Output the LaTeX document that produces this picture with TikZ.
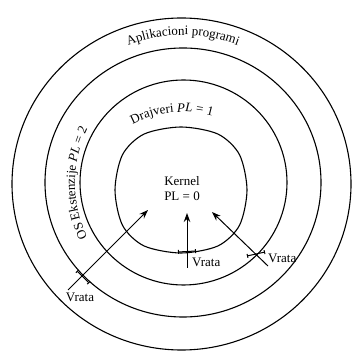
\documentclass[tikz,border=0pt]{standalone}
\usepackage{fontspec}
\setmainfont{Liberation Serif}
\usetikzlibrary{arrows.meta,decorations.text}
\newcommand\ringfont{\fontsize{13}{15}\selectfont}
\begin{document}
\begin{tikzpicture}[x=1pt,y=1pt,
  ring/.style={line width=1.1pt},
  gatearrow/.style={line width=1pt,-{Stealth[length=9pt,width=6.5pt]}},
  gatebar/.style={line width=1pt,{Bar[width=4pt]}-{Bar[width=4pt]}},
  lbl/.style={font=\ringfont,inner sep=0pt}]
\useasboundingbox (0,0) rectangle (353,353);
% rings
\draw[ring] (181.5,169) ellipse [x radius=169.5, y radius=166];
\draw[ring] (183,170.5) ellipse [x radius=138, y radius=134.5];
\draw[ring] (183.5,170.5) ellipse [x radius=103.5, y radius=102.5];
\draw[ring] plot[smooth cycle] coordinates {(247,163) (239.5,198.3) (218,218.9) (181,226) (144,218.9) (122.5,198.3) (115,163) (122.5,127.7) (144,107.1) (181,100) (218,107.1) (239.5,127.7)};
% ring labels
\path[decorate,decoration={text along path,text align=center,text={|\ringfont|Aplikacioni programi}}]
  (183,170) ++(125:148) arc[start angle=125,end angle=55,radius=148];
\path[decorate,decoration={text along path,text align=center,text={|\ringfont|Drajveri |\ringfont\itshape|PL|\ringfont| = 1}}]
  (183,133) ++(130:108) arc[start angle=130,end angle=62,radius=108];
\path[decorate,decoration={text along path,text align=center,text={|\ringfont|OS Ekstenzije |\ringfont\itshape|PL|\ringfont| = 2}}]
  (200,170) ++(220:125) arc[start angle=220,end angle=140,radius=125];
% kernel
\node[lbl,align=center] (kern) at (182,164) {Kernel\\PL = 0};
% gates and arrows
\coordinate (a1s) at (68,63); \coordinate (a1t) at (148,143);
\coordinate (g1a) at (77,82); \coordinate (g1b) at (89,70);
\draw[gatearrow] (a1s) -- (a1t);
\draw[gatebar] (g1a) -- (g1b);
\coordinate (a2s) at (187,85); \coordinate (a2t) at (187,140);
\coordinate (g2a) at (178,101); \coordinate (g2b) at (196,102);
\draw[gatearrow] (a2s) -- (a2t);
\draw[gatebar] (g2a) -- (g2b);
\coordinate (a3s) at (268,87); \coordinate (a3t) at (212,141);
\coordinate (g3a) at (247,97); \coordinate (g3b) at (265,101);
\draw[gatearrow] (a3s) -- (a3t);
\draw[gatebar] (g3a) -- (g3b);
% gate labels
\node[lbl] (v1) at (80,56) {Vrata};
\node[lbl,anchor=west] (v2) at (192,91) {Vrata};
\node[lbl,anchor=west] (v3) at (268,95) {Vrata};
\end{tikzpicture}
\end{document}
